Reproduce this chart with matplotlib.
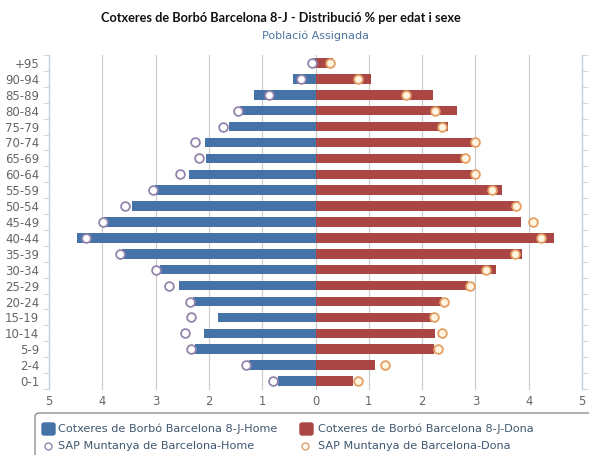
import matplotlib
matplotlib.use("Agg")
import matplotlib.pyplot as plt
from matplotlib.patches import FancyBboxPatch
from matplotlib.lines import Line2D
from matplotlib.ticker import FixedLocator, FuncFormatter

# age groups, top to bottom
AGES = ["+95", "90-94", "85-89", "80-84", "75-79", "70-74", "65-69", "60-64",
        "55-59", "50-54", "45-49", "40-44", "35-39", "30-34", "25-29",
        "20-24", "15-19", "10-14", "5-9", "2-4", "0-1"]

# Cotxeres de Borbó (bars), % of population
HOME = [0.05, 0.43, 1.16, 1.41, 1.63, 2.07, 2.05, 2.38, 3.02, 3.45,
        3.96, 4.48, 3.63, 2.91, 2.57, 2.30, 1.83, 2.10, 2.26, 1.25, 0.71]
DONA = [0.32, 1.05, 2.20, 2.66, 2.48, 2.97, 2.83, 3.04, 3.49, 3.82,
        3.85, 4.47, 3.87, 3.38, 2.86, 2.37, 2.18, 2.25, 2.22, 1.12, 0.70]
# SAP Muntanya de Barcelona (markers)
SAP_HOME = [0.06, 0.28, 0.88, 1.45, 1.73, 2.26, 2.19, 2.55, 3.05, 3.58,
            3.99, 4.30, 3.67, 2.99, 2.74, 2.35, 2.34, 2.44, 2.33, 1.31, 0.79]
SAP_DONA = [0.27, 0.79, 1.70, 2.25, 2.38, 3.00, 2.80, 3.00, 3.32, 3.77,
            4.09, 4.24, 3.75, 3.20, 2.89, 2.41, 2.22, 2.37, 2.30, 1.30, 0.79]

LEGEND = ["Cotxeres de Borbó Barcelona 8-J-Home", "Cotxeres de Borbó Barcelona 8-J-Dona",
          "SAP Muntanya de Barcelona-Home", "SAP Muntanya de Barcelona-Dona"]

BLUE, RED = "#4572A7", "#AA4643"
PURPLE, ORANGE = "#9385AC", "#E3A066"
AXC = "#C0D0E0"

W, H = 589, 455
fig = plt.figure(figsize=(W / 100, H / 100), dpi=100)
px = lambda x, y: (x / W, 1 - y / H)

ax = fig.add_axes([49 / W, 1 - 389 / H, (582 - 49) / W, (389 - 55) / H])
y = list(range(len(AGES)))

ax.barh(y, [-v for v in HOME], height=0.6, color=BLUE, zorder=3)
ax.barh(y, DONA, height=0.6, color=RED, zorder=3)
ax.plot([-v for v in SAP_HOME], y, "o", ms=6.3, mfc="white", mec=PURPLE, mew=1.3, zorder=4)
ax.plot(SAP_DONA, y, "o", ms=6.3, mfc="#FFF4E0", mec=ORANGE, mew=1.3, zorder=4)

ax.set_xlim(-5, 5)
ax.set_ylim(len(AGES) - 0.5, -0.5)
ax.set_xticks(range(-5, 6))
ax.xaxis.set_major_formatter(FuncFormatter(lambda v, p: f"{abs(v):g}"))
ax.tick_params(axis="x", length=0, pad=4, labelsize=8.3, labelcolor="#666666")
for xv in range(-4, 5):
    ax.axvline(xv, color="#C8C8C8", lw=0.8, zorder=1, clip_on=False)

ax.set_yticks(y)
ax.set_yticklabels(AGES)
ax.yaxis.set_minor_locator(FixedLocator([i - 0.5 for i in range(len(AGES) + 1)]))
ax.tick_params(axis="y", which="major", length=0, pad=7, labelsize=8.5, labelcolor="#666666")
ax.tick_params(axis="y", which="minor", length=4, color=AXC, left=True, right=True)
for s in ("top", "bottom"):
    ax.spines[s].set_visible(False)
for s in ("left", "right"):
    ax.spines[s].set_color(AXC)
    ax.spines[s].set_linewidth(1)

# titles
fig.text(*px(281, 18), "Cotxeres de Borbó Barcelona 8-J - Distribució % per edat i sexe",
         ha="center", va="center", fontsize=9.2, fontweight="bold",
         family="Lato", color="#111111")
fig.text(*px(316, 36), "Població Assignada", ha="center", va="center",
         fontsize=8, color="#4D759E")

# legend box (cut at right edge like the reference)
box = FancyBboxPatch(px(35, 455 + 5), (600 - 35) / W, 47 / H,
                     boxstyle="round,pad=0,rounding_size=0.008",
                     transform=fig.transFigure, fc="white", ec="#909090", lw=1)
fig.patches.append(box)
for xs, c in ((42, BLUE), (300, RED)):
    fig.patches.append(FancyBboxPatch(px(xs, 435), 13 / W, 12 / H,
                                      boxstyle="round,pad=0,rounding_size=0.004",
                                      transform=fig.transFigure, fc=c, ec=c))
for xs, c in ((48, PURPLE), (305, ORANGE)):
    fig.lines.append(Line2D([xs / W], [1 - 446 / H], marker="o", ms=5, mfc="white",
                            mec=c, mew=1, transform=fig.transFigure))
for (xs, ys), t in zip(((58, 429), (318, 429), (58, 446), (318, 446)), LEGEND):
    fig.text(*px(xs, ys), t, ha="left", va="center", fontsize=8.15, color="#3E576F")

fig.savefig("out.png", dpi=100)
